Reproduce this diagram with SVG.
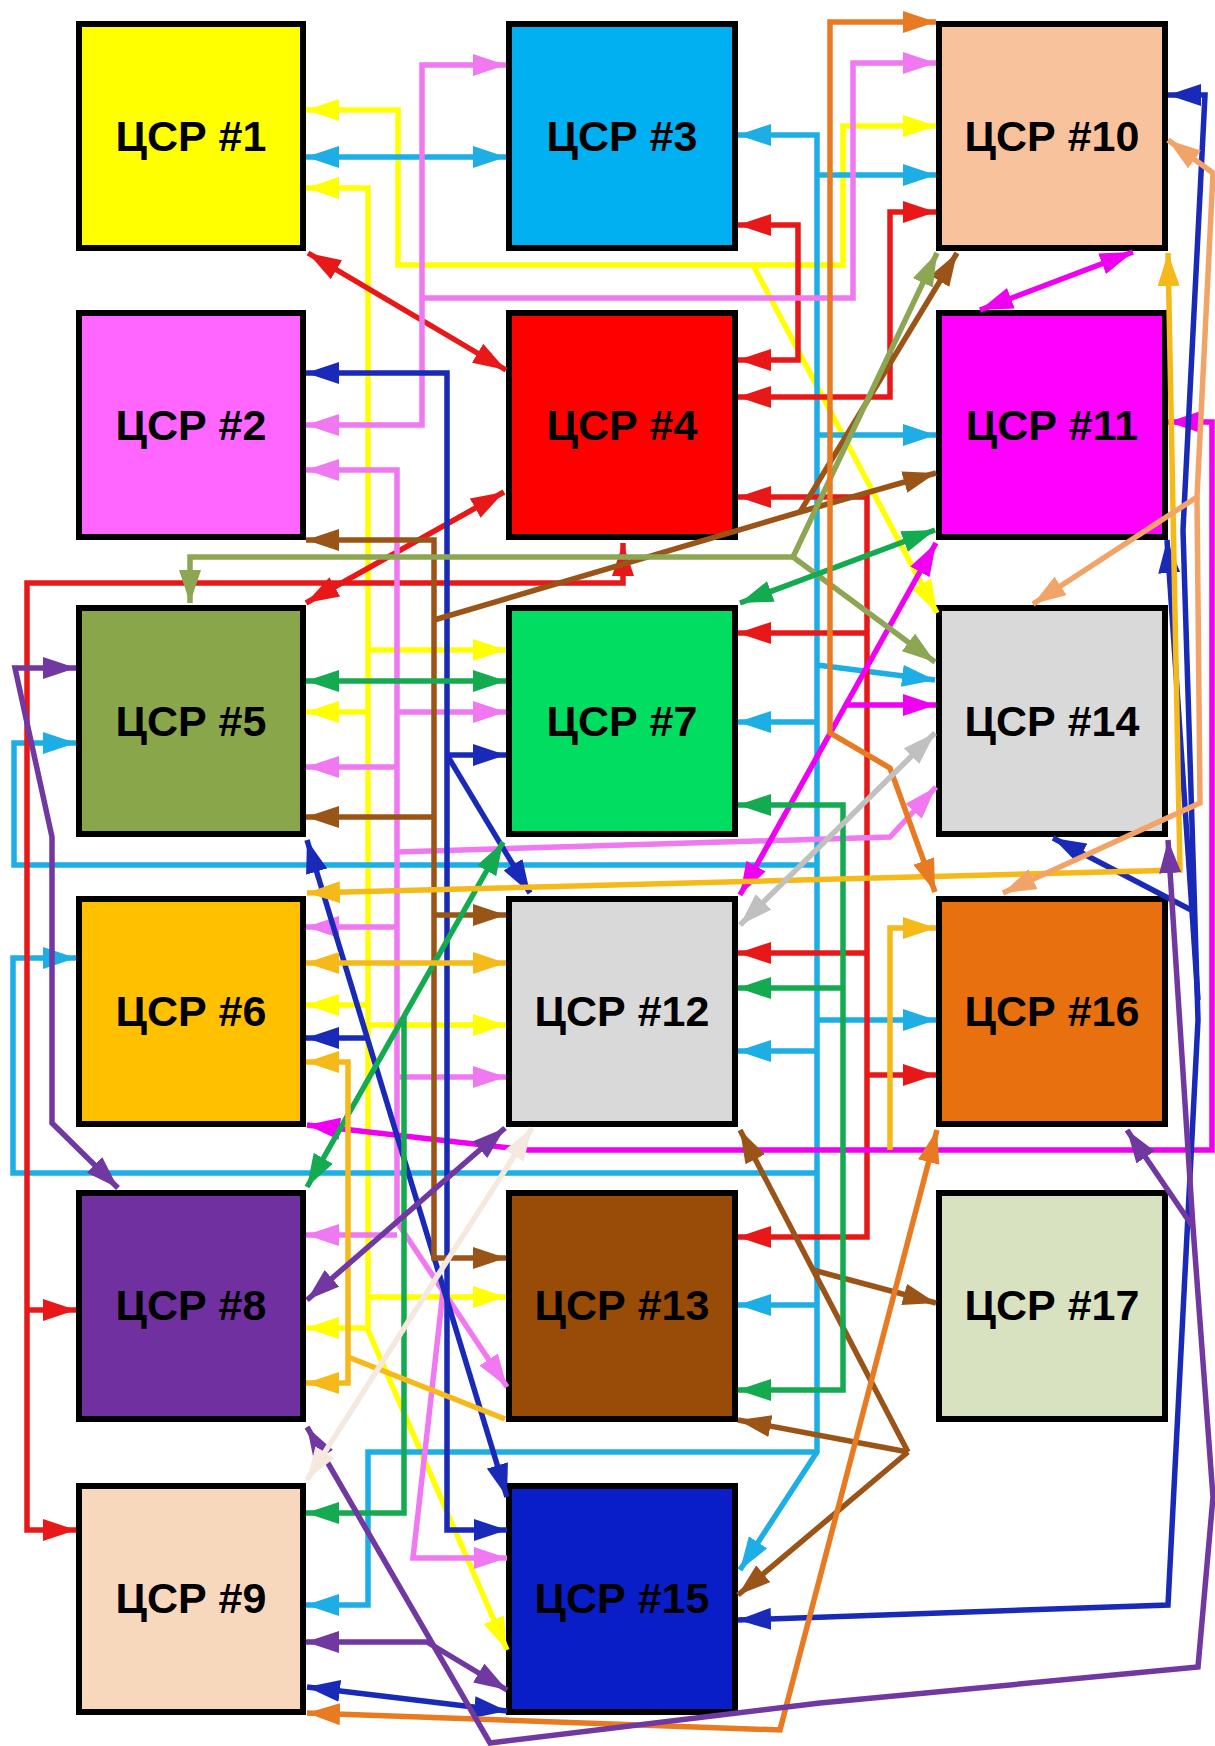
<svg xmlns="http://www.w3.org/2000/svg" width="1215" height="1746" viewBox="0 0 1215 1746">
<style>
.n{stroke:#000;stroke-width:6}
.t{font-family:"Liberation Sans",Arial,sans-serif;font-weight:bold;font-size:43px;text-anchor:middle;fill:#000}
.c{fill:none;stroke-width:5.5;stroke-linejoin:miter}
.y{stroke:#FFFF00}.cy{stroke:#1CAEE4}.r{stroke:#E81818}.p{stroke:#F078F0}.m{stroke:#F000F0}
.b{stroke:#1A2AB8}.br{stroke:#9A5418}.o{stroke:#8CA654}.g{stroke:#14AA50}.gd{stroke:#F5BA1A}
.or{stroke:#E87A22}.pe{stroke:#F2A468}.pu{stroke:#7038A0}.gr{stroke:#C0C0C0}.be{stroke:#F5E8DF}
</style>
<defs>
<marker id="ay" viewBox="0 0 15 10" refX="15" refY="5" markerWidth="33" markerHeight="22" markerUnits="userSpaceOnUse" orient="auto-start-reverse"><path d="M0,0L15,5L0,10z" fill="#FFFF00"/></marker>
<marker id="acy" viewBox="0 0 15 10" refX="15" refY="5" markerWidth="33" markerHeight="22" markerUnits="userSpaceOnUse" orient="auto-start-reverse"><path d="M0,0L15,5L0,10z" fill="#1CAEE4"/></marker>
<marker id="ar" viewBox="0 0 15 10" refX="15" refY="5" markerWidth="33" markerHeight="22" markerUnits="userSpaceOnUse" orient="auto-start-reverse"><path d="M0,0L15,5L0,10z" fill="#E81818"/></marker>
<marker id="ap" viewBox="0 0 15 10" refX="15" refY="5" markerWidth="33" markerHeight="22" markerUnits="userSpaceOnUse" orient="auto-start-reverse"><path d="M0,0L15,5L0,10z" fill="#F078F0"/></marker>
<marker id="am" viewBox="0 0 15 10" refX="15" refY="5" markerWidth="33" markerHeight="22" markerUnits="userSpaceOnUse" orient="auto-start-reverse"><path d="M0,0L15,5L0,10z" fill="#F000F0"/></marker>
<marker id="ab" viewBox="0 0 15 10" refX="15" refY="5" markerWidth="33" markerHeight="22" markerUnits="userSpaceOnUse" orient="auto-start-reverse"><path d="M0,0L15,5L0,10z" fill="#1A2AB8"/></marker>
<marker id="abr" viewBox="0 0 15 10" refX="15" refY="5" markerWidth="33" markerHeight="22" markerUnits="userSpaceOnUse" orient="auto-start-reverse"><path d="M0,0L15,5L0,10z" fill="#9A5418"/></marker>
<marker id="ao" viewBox="0 0 15 10" refX="15" refY="5" markerWidth="33" markerHeight="22" markerUnits="userSpaceOnUse" orient="auto-start-reverse"><path d="M0,0L15,5L0,10z" fill="#8CA654"/></marker>
<marker id="ag" viewBox="0 0 15 10" refX="15" refY="5" markerWidth="33" markerHeight="22" markerUnits="userSpaceOnUse" orient="auto-start-reverse"><path d="M0,0L15,5L0,10z" fill="#14AA50"/></marker>
<marker id="agd" viewBox="0 0 15 10" refX="15" refY="5" markerWidth="33" markerHeight="22" markerUnits="userSpaceOnUse" orient="auto-start-reverse"><path d="M0,0L15,5L0,10z" fill="#F5BA1A"/></marker>
<marker id="aor" viewBox="0 0 15 10" refX="15" refY="5" markerWidth="33" markerHeight="22" markerUnits="userSpaceOnUse" orient="auto-start-reverse"><path d="M0,0L15,5L0,10z" fill="#E87A22"/></marker>
<marker id="ape" viewBox="0 0 15 10" refX="15" refY="5" markerWidth="33" markerHeight="22" markerUnits="userSpaceOnUse" orient="auto-start-reverse"><path d="M0,0L15,5L0,10z" fill="#F2A468"/></marker>
<marker id="apu" viewBox="0 0 15 10" refX="15" refY="5" markerWidth="33" markerHeight="22" markerUnits="userSpaceOnUse" orient="auto-start-reverse"><path d="M0,0L15,5L0,10z" fill="#7038A0"/></marker>
<marker id="agr" viewBox="0 0 15 10" refX="15" refY="5" markerWidth="33" markerHeight="22" markerUnits="userSpaceOnUse" orient="auto-start-reverse"><path d="M0,0L15,5L0,10z" fill="#C0C0C0"/></marker>
<marker id="abe" viewBox="0 0 15 10" refX="15" refY="5" markerWidth="33" markerHeight="22" markerUnits="userSpaceOnUse" orient="auto-start-reverse"><path d="M0,0L15,5L0,10z" fill="#F5E8DF"/></marker>
</defs>
<rect width="1215" height="1746" fill="#fff"/>
<g id="n1"><rect class="n" x="79" y="24" width="224" height="224" fill="#FFFF00"/><text class="t" x="191" y="151">ЦСР #1</text></g>
<g id="n2"><rect class="n" x="79" y="313" width="224" height="224" fill="#FF66FF"/><text class="t" x="191" y="440">ЦСР #2</text></g>
<g id="n5"><rect class="n" x="79" y="608" width="224" height="226" fill="#8AA64A"/><text class="t" x="191" y="736">ЦСР #5</text></g>
<g id="n6"><rect class="n" x="79" y="899" width="224" height="225" fill="#FFC000"/><text class="t" x="191" y="1026">ЦСР #6</text></g>
<g id="n8"><rect class="n" x="79" y="1193" width="224" height="226" fill="#7030A0"/><text class="t" x="191" y="1320">ЦСР #8</text></g>
<g id="n9"><rect class="n" x="79" y="1486" width="224" height="226" fill="#F8D8BC"/><text class="t" x="191" y="1613">ЦСР #9</text></g>
<g id="n3"><rect class="n" x="509" y="24" width="226" height="224" fill="#00B0F0"/><text class="t" x="622" y="151">ЦСР #3</text></g>
<g id="n4"><rect class="n" x="509" y="313" width="226" height="224" fill="#FF0000"/><text class="t" x="622" y="440">ЦСР #4</text></g>
<g id="n7"><rect class="n" x="509" y="608" width="226" height="226" fill="#00DD60"/><text class="t" x="622" y="736">ЦСР #7</text></g>
<g id="n12"><rect class="n" x="509" y="899" width="226" height="225" fill="#D9D9D9"/><text class="t" x="622" y="1026">ЦСР #12</text></g>
<g id="n13"><rect class="n" x="509" y="1193" width="226" height="226" fill="#994C08"/><text class="t" x="622" y="1320">ЦСР #13</text></g>
<g id="n15"><rect class="n" x="509" y="1486" width="226" height="226" fill="#0A1EC8"/><text class="t" x="622" y="1613">ЦСР #15</text></g>
<g id="n10"><rect class="n" x="939" y="24" width="226" height="224" fill="#F8C39C"/><text class="t" x="1052" y="151">ЦСР #10</text></g>
<g id="n11"><rect class="n" x="939" y="313" width="226" height="224" fill="#FF00FF"/><text class="t" x="1052" y="440">ЦСР #11</text></g>
<g id="n14"><rect class="n" x="939" y="608" width="226" height="226" fill="#D9D9D9"/><text class="t" x="1052" y="736">ЦСР #14</text></g>
<g id="n16"><rect class="n" x="939" y="899" width="226" height="225" fill="#E8700E"/><text class="t" x="1052" y="1026">ЦСР #16</text></g>
<g id="n17"><rect class="n" x="939" y="1193" width="226" height="226" fill="#D8E2C0"/><text class="t" x="1052" y="1320">ЦСР #17</text></g>
<g id="connectors">
<!-- yellow -->
<path class="c y" d="M306,110L398,110L398,265L843,265L843,126L936,126" marker-start="url(#ay)" marker-end="url(#ay)"/>
<path class="c y" d="M753,265L937,613" marker-end="url(#ay)"/>
<path class="c y" d="M306,188L368,188L368,1330L507,1650" marker-start="url(#ay)" marker-end="url(#ay)"/>
<path class="c y" d="M368,650L506,650" marker-end="url(#ay)"/>
<path class="c y" d="M368,712L306,712" marker-end="url(#ay)"/>
<path class="c y" d="M368,1005L306,1005" marker-end="url(#ay)"/>
<path class="c y" d="M368,1025L506,1025" marker-end="url(#ay)"/>
<path class="c y" d="M368,1297L506,1297" marker-end="url(#ay)"/>
<path class="c y" d="M368,1328L306,1328" marker-end="url(#ay)"/>
<!-- cyan -->
<path class="c cy" d="M306,157L506,157" marker-start="url(#acy)" marker-end="url(#acy)"/>
<path class="c cy" d="M738,135L817,135L817,1452L740,1570" marker-start="url(#acy)" marker-end="url(#acy)"/>
<path class="c cy" d="M817,175L936,175" marker-end="url(#acy)"/>
<path class="c cy" d="M817,435L936,435" marker-end="url(#acy)"/>
<path class="c cy" d="M817,665L935,680" marker-end="url(#acy)"/>
<path class="c cy" d="M817,722L738,722" marker-end="url(#acy)"/>
<path class="c cy" d="M817,1020L936,1020" marker-end="url(#acy)"/>
<path class="c cy" d="M817,1051L738,1051" marker-end="url(#acy)"/>
<path class="c cy" d="M817,1305L738,1305" marker-end="url(#acy)"/>
<path class="c cy" d="M817,1452L368,1452L368,1605L306,1605" marker-end="url(#acy)"/>
<path class="c cy" d="M817,865L14,865L14,743L76,743" marker-end="url(#acy)"/>
<path class="c cy" d="M817,1173L13,1173L13,958L76,958" marker-end="url(#acy)"/>
<!-- red -->
<path class="c r" d="M308,253L506,370" marker-start="url(#ar)" marker-end="url(#ar)"/>
<path class="c r" d="M738,225L798,225L798,360L738,360" marker-start="url(#ar)" marker-end="url(#ar)"/>
<path class="c r" d="M738,397L890,397L890,212L936,212" marker-start="url(#ar)" marker-end="url(#ar)"/>
<path class="c r" d="M738,497L867,497L867,1237L738,1237" marker-start="url(#ar)" marker-end="url(#ar)"/>
<path class="c r" d="M867,633L738,633" marker-end="url(#ar)"/>
<path class="c r" d="M867,953L738,953" marker-end="url(#ar)"/>
<path class="c r" d="M867,1075L936,1075" marker-end="url(#ar)"/>
<path class="c r" d="M623,543L623,583L27,583L27,1530L76,1530" marker-start="url(#ar)" marker-end="url(#ar)"/>
<path class="c r" d="M27,1310L76,1310" marker-end="url(#ar)"/>
<path class="c r" d="M306,603L504,492" marker-start="url(#ar)" marker-end="url(#ar)"/>
<!-- pink -->
<path class="c p" d="M306,425L422,425L422,65L506,65" marker-start="url(#ap)" marker-end="url(#ap)"/>
<path class="c p" d="M422,298L853,298L853,63L936,63" marker-end="url(#ap)"/>
<path class="c p" d="M306,470L397,470L397,1222L507,1387" marker-start="url(#ap)" marker-end="url(#ap)"/>
<path class="c p" d="M397,712L506,712" marker-end="url(#ap)"/>
<path class="c p" d="M397,767L306,767" marker-end="url(#ap)"/>
<path class="c p" d="M397,852L890,837L936,787" marker-end="url(#ap)"/>
<path class="c p" d="M397,927L306,927" marker-end="url(#ap)"/>
<path class="c p" d="M397,1077L506,1077" marker-end="url(#ap)"/>
<path class="c p" d="M397,1235L306,1235" marker-end="url(#ap)"/>
<path class="c p" d="M443,1291L413,1558L507,1558" marker-end="url(#ap)"/>
<!-- magenta -->
<path class="c m" d="M980,310L1133,252" marker-start="url(#am)" marker-end="url(#am)"/>
<path class="c m" d="M307,1125L528,1150L1212,1150L1212,422L1168,422" marker-start="url(#am)" marker-end="url(#am)"/>
<path class="c m" d="M936,543L740,895" marker-start="url(#am)" marker-end="url(#am)"/>
<path class="c m" d="M844,705L936,705" marker-end="url(#am)"/>
<!-- blue -->
<path class="c b" d="M306,373L447,373L447,1530L507,1530" marker-start="url(#ab)" marker-end="url(#ab)"/>
<path class="c b" d="M447,755L506,755" marker-end="url(#ab)"/>
<path class="c b" d="M447,755L530,893" marker-end="url(#ab)"/>
<path class="c b" d="M307,840L507,1497" marker-start="url(#ab)" marker-end="url(#ab)"/>
<path class="c b" d="M367,1038L306,1038" marker-end="url(#ab)"/>
<path class="c b" d="M307,1687L507,1711" marker-start="url(#ab)" marker-end="url(#ab)"/>
<path class="c b" d="M738,1620L1168,1605L1198,1020L1183,530L1205,95L1168,95" marker-start="url(#ab)" marker-end="url(#ab)"/>
<path class="c b" d="M1198,1000L1167,540" marker-end="url(#ab)"/>
<path class="c b" d="M1195,912L1053,838" marker-end="url(#ab)"/>
<!-- brown -->
<path class="c br" d="M306,540L434,540L434,1258L506,1258" marker-start="url(#abr)" marker-end="url(#abr)"/>
<path class="c br" d="M434,817L306,817" marker-end="url(#abr)"/>
<path class="c br" d="M434,915L506,915" marker-end="url(#abr)"/>
<path class="c br" d="M434,620L800,512L936,473" marker-end="url(#abr)"/>
<path class="c br" d="M800,512L957,253" marker-end="url(#abr)"/>
<path class="c br" d="M740,1130L908,1452" marker-start="url(#abr)"/>
<path class="c br" d="M908,1452L738,1420" marker-end="url(#abr)"/>
<path class="c br" d="M908,1452L738,1595" marker-end="url(#abr)"/>
<path class="c br" d="M813,1270L936,1303" marker-end="url(#abr)"/>
<!-- olive -->
<path class="c o" d="M793,557L190,557L190,603" marker-end="url(#ao)"/>
<path class="c o" d="M793,557L937,253" marker-end="url(#ao)"/>
<path class="c o" d="M793,557L935,662" marker-end="url(#ao)"/>
<!-- green -->
<path class="c g" d="M306,681L506,681" marker-start="url(#ag)" marker-end="url(#ag)"/>
<path class="c g" d="M740,603L935,530" marker-start="url(#ag)" marker-end="url(#ag)"/>
<path class="c g" d="M738,805L843,805L843,1390L738,1390" marker-start="url(#ag)" marker-end="url(#ag)"/>
<path class="c g" d="M843,988L738,988" marker-end="url(#ag)"/>
<path class="c g" d="M307,1187L503,842" marker-start="url(#ag)" marker-end="url(#ag)"/>
<path class="c g" d="M404,1017L404,1513L306,1513" marker-end="url(#ag)"/>
<!-- gold -->
<path class="c gd" d="M307,893L1180,870L1168,253" marker-start="url(#agd)" marker-end="url(#agd)"/>
<path class="c gd" d="M306,963L506,963" marker-start="url(#agd)" marker-end="url(#agd)"/>
<path class="c gd" d="M306,1062L348,1062L348,1383L306,1383" marker-start="url(#agd)" marker-end="url(#agd)"/>
<path class="c gd" d="M348,1357L505,1419"/>
<path class="c gd" d="M890,1150L890,928L936,928" marker-end="url(#agd)"/>
<!-- orange -->
<path class="c or" d="M936,22L830,22L830,733L890,768L935,892" marker-start="url(#aor)" marker-end="url(#aor)"/>
<path class="c or" d="M307,1713L420,1717L780,1730L937,1130" marker-start="url(#aor)" marker-end="url(#aor)"/>
<!-- peach -->
<path class="c pe" d="M1168,140L1213,173L1197,497L1033,604" marker-start="url(#ape)" marker-end="url(#ape)"/>
<path class="c pe" d="M1197,497L1200,803L1003,893" marker-end="url(#ape)"/>
<!-- purple -->
<path class="c pu" d="M76,668L15,668L52,837L52,1123L118,1188" marker-start="url(#apu)" marker-end="url(#apu)"/>
<path class="c pu" d="M307,1300L505,1128" marker-start="url(#apu)" marker-end="url(#apu)"/>
<path class="c pu" d="M307,1427L490,1743L820,1703L1198,1667L1213,1497L1193,1227L1168,840" marker-start="url(#apu)" marker-end="url(#apu)"/>
<path class="c pu" d="M1193,1227L1127,1130" marker-end="url(#apu)"/>
<path class="c pu" d="M306,1642L427,1642L507,1690" marker-start="url(#apu)" marker-end="url(#apu)"/>
<!-- gray -->
<path class="c gr" d="M740,925L935,733" marker-start="url(#agr)" marker-end="url(#agr)"/>
<!-- beige -->
<path class="c be" d="M307,1480L532,1128" marker-start="url(#abe)" marker-end="url(#abe)"/>
</g>
</svg>
